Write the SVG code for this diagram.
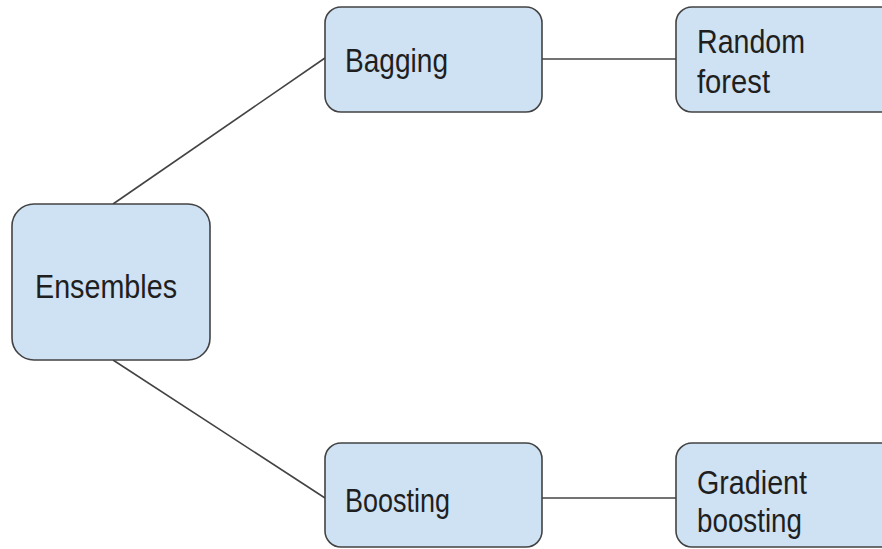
<svg xmlns="http://www.w3.org/2000/svg" width="882" height="549" viewBox="0 0 882 549">
<style>
.box{fill:#cfe2f3;stroke:#434343;stroke-width:1.6}
.lbl{font-family:"Liberation Sans",Arial,sans-serif;font-size:33px;fill:#1f1f1f}
.edge{stroke:#434343;stroke-width:1.6;fill:none}
</style>
<rect width="882" height="549" fill="#ffffff"/>
<g id="connectors">
<line class="edge" x1="113" y1="204" x2="325" y2="58"/>
<line class="edge" x1="113" y1="360" x2="325" y2="498"/>
<line class="edge" x1="542" y1="59" x2="676" y2="59"/>
<line class="edge" x1="542" y1="498" x2="676" y2="498"/>
</g>
<g id="ensembles">
<rect class="box" x="12" y="204" width="198" height="156" rx="22" ry="22"/>
<text class="lbl" x="35" y="298" textLength="142" lengthAdjust="spacingAndGlyphs">Ensembles</text>
</g>
<g id="bagging">
<rect class="box" x="325" y="7" width="217" height="105" rx="16" ry="16"/>
<text class="lbl" x="345" y="72" textLength="103" lengthAdjust="spacingAndGlyphs">Bagging</text>
</g>
<g id="random-forest">
<rect class="box" x="676" y="7" width="230" height="105" rx="16" ry="16"/>
<text class="lbl" x="697" y="53" textLength="108" lengthAdjust="spacingAndGlyphs">Random</text>
<text class="lbl" x="697" y="93" textLength="73" lengthAdjust="spacingAndGlyphs">forest</text>
</g>
<g id="boosting">
<rect class="box" x="325" y="443" width="217" height="104" rx="16" ry="16"/>
<text class="lbl" x="345" y="512" textLength="105" lengthAdjust="spacingAndGlyphs">Boosting</text>
</g>
<g id="gradient-boosting">
<rect class="box" x="676" y="443" width="230" height="104" rx="16" ry="16"/>
<text class="lbl" x="697" y="494" textLength="110" lengthAdjust="spacingAndGlyphs">Gradient</text>
<text class="lbl" x="697" y="532" textLength="105" lengthAdjust="spacingAndGlyphs">boosting</text>
</g>
</svg>
